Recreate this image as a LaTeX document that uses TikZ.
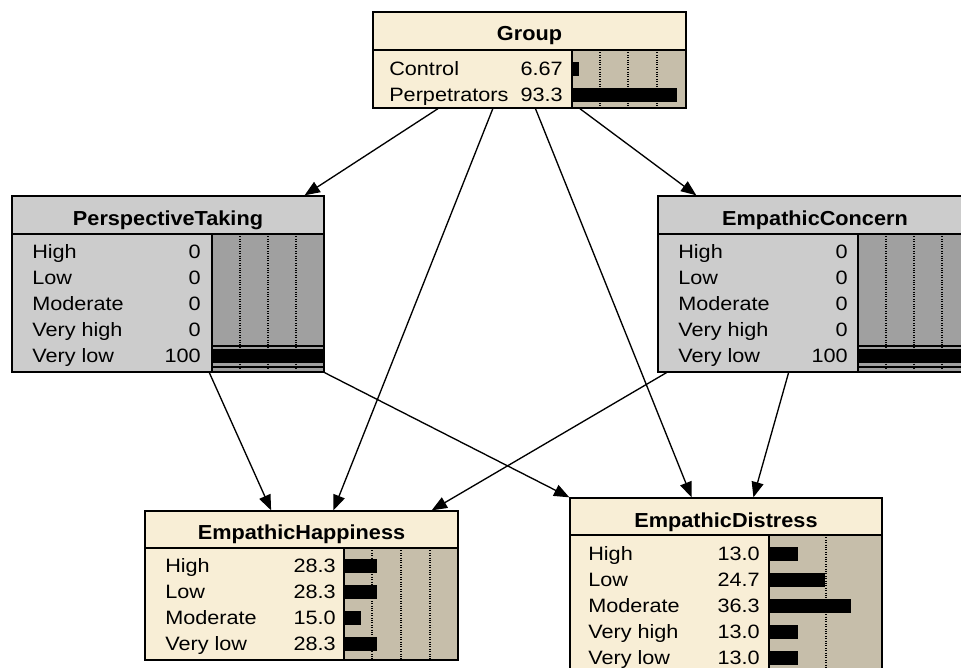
\documentclass[tikz,border=0pt]{standalone}
\usepackage{fontspec}
\newfontfamily\statefont{Liberation Sans}[FakeStretch=1.12]
\newfontfamily\titlefont{Liberation Sans}[FakeStretch=1.07]
\usetikzlibrary{arrows.meta,fit}

\definecolor{cream}{RGB}{248,238,214}
\definecolor{tan}{RGB}{198,190,170}
\definecolor{lgray}{RGB}{204,204,204}
\definecolor{dgray}{RGB}{160,160,160}

\begin{document}
\begin{tikzpicture}[
  x=0.75pt, y=-0.75pt,
  frame/.style={draw, line width=1pt, inner sep=0pt},
  chart/.style={draw, line width=1pt},
  title/.style={font=\titlefont\bfseries\fontsize{15.2}{18}\selectfont, anchor=base, inner sep=0pt},
  state/.style={font=\statefont\fontsize{14.5}{17}\selectfont, anchor=base west, inner sep=0pt},
  value/.style={font=\statefont\fontsize{14.5}{17}\selectfont, anchor=base east, inner sep=0pt},
  tick/.style={densely dotted, line width=0.8pt},
  arrow/.style={-{Triangle[length=11.5pt,width=9pt]}, line width=1pt}
]
\useasboundingbox (0,0) rectangle (961,668);
\clip (0,0) rectangle (961,668);

% Group
\node[frame, fill=cream, fit={(373,12) (686,108)}] (grp) {};
\draw[line width=1pt] (373,50) -- (686,50);
\draw[chart, fill=tan] (572,50) rectangle (686,108);
\foreach \x in {600,628,657} \draw[tick] (\x,50) -- (\x,108);
\node[title] (grp-t) at (529.5,40) {Group};
\foreach \y/\s/\v [count=\i] in {75/Control/6.67, 101/Perpetrators/93.3} {
  \fill (572,\y-13.5) rectangle ++(\v*1.12,14);
  \node[state] (grp-s\i) at (389,\y) {\s};
  \node[value] (grp-v\i) at (563,\y) {\v};
}

% PerspectiveTaking
\node[frame, fill=lgray, fit={(12,196) (324,372)}] (pt) {};
\draw[line width=1pt] (12,234) -- (324,234);
\draw[chart, fill=dgray] (212,234) rectangle (324,372);
\foreach \x in {240,268,296} \draw[tick] (\x,234) -- (\x,372);
\node[title] (pt-t) at (168,225) {PerspectiveTaking};
\foreach \y/\s/\v [count=\i] in {258/High/0, 284/Low/0, 310/Moderate/0, 336/Very high/0, 362/Very low/100} {
  \fill (212,\y-13.5) rectangle ++(\v*1.12,14);
  \node[state] (pt-s\i) at (32,\y) {\s};
  \node[value] (pt-v\i) at (201,\y) {\v};
}
\draw[line width=0.8pt] (212,346) -- (324,346) (212,367) -- (324,367);

% EmpathicConcern
\node[frame, fill=lgray, fit={(658,196) (970,372)}] (ec) {};
\draw[line width=1pt] (658,234) -- (970,234);
\draw[chart, fill=dgray] (858,234) rectangle (970,372);
\foreach \x in {886,914,942} \draw[tick] (\x,234) -- (\x,372);
\node[title] (ec-t) at (815,225) {EmpathicConcern};
\foreach \y/\s/\v [count=\i] in {258/High/0, 284/Low/0, 310/Moderate/0, 336/Very high/0, 362/Very low/100} {
  \fill (858,\y-13.5) rectangle ++(\v*1.12,14);
  \node[state] (ec-s\i) at (678,\y) {\s};
  \node[value] (ec-v\i) at (848,\y) {\v};
}
\draw[line width=0.8pt] (858,346) -- (970,346) (858,367) -- (970,367);

% EmpathicHappiness
\node[frame, fill=cream, fit={(145,511) (458,660)}] (hap) {};
\draw[line width=1pt] (145,548) -- (458,548);
\draw[chart, fill=tan] (344,548) rectangle (458,660);
\foreach \x in {372,401,430} \draw[tick] (\x,548) -- (\x,660);
\node[title] (hap-t) at (301.5,539) {EmpathicHappiness};
\foreach \y/\s/\v [count=\i] in {572/High/28.3, 598/Low/28.3, 624/Moderate/15.0, 650/Very low/28.3} {
  \fill (344,\y-13.5) rectangle ++(\v*1.16,14);
  \node[state] (hap-s\i) at (165,\y) {\s};
  \node[value] (hap-v\i) at (336,\y) {\v};
}

% EmpathicDistress
\node[frame, fill=cream, fit={(570,498) (882,676)}] (dis) {};
\draw[line width=1pt] (570,535) -- (882,535);
\draw[chart, fill=tan] (769,535) rectangle (882,676);
\draw[tick] (826,535) -- (826,676);
\node[title] (dis-t) at (726,527) {EmpathicDistress};
\foreach \y/\s/\v [count=\i] in {560/High/13.0, 586/Low/24.7, 612/Moderate/36.3, 638/Very high/13.0, 664/Very low/13.0} {
  \fill (769,\y-13.5) rectangle ++(\v*2.26,14);
  \node[state] (dis-s\i) at (588,\y) {\s};
  \node[value] (dis-v\i) at (760,\y) {\v};
}

% links
\draw[arrow] (grp.-152) -- (pt.33);
\draw[arrow] (grp.-127) -- (hap.67.7);
\draw[arrow] (grp.-83.5) -- (dis.111.5);
\draw[arrow] (grp.-44.7) -- (ec.143);
\draw[arrow] (pt.-65.6) -- (hap.112.3);
\draw[arrow] (pt.south east) -- (dis.north west);
\draw[arrow] (ec.-149.4) -- (hap.30.5);
\draw[arrow] (ec.-106.5) -- (dis.73.7);

\end{tikzpicture}
\end{document}
